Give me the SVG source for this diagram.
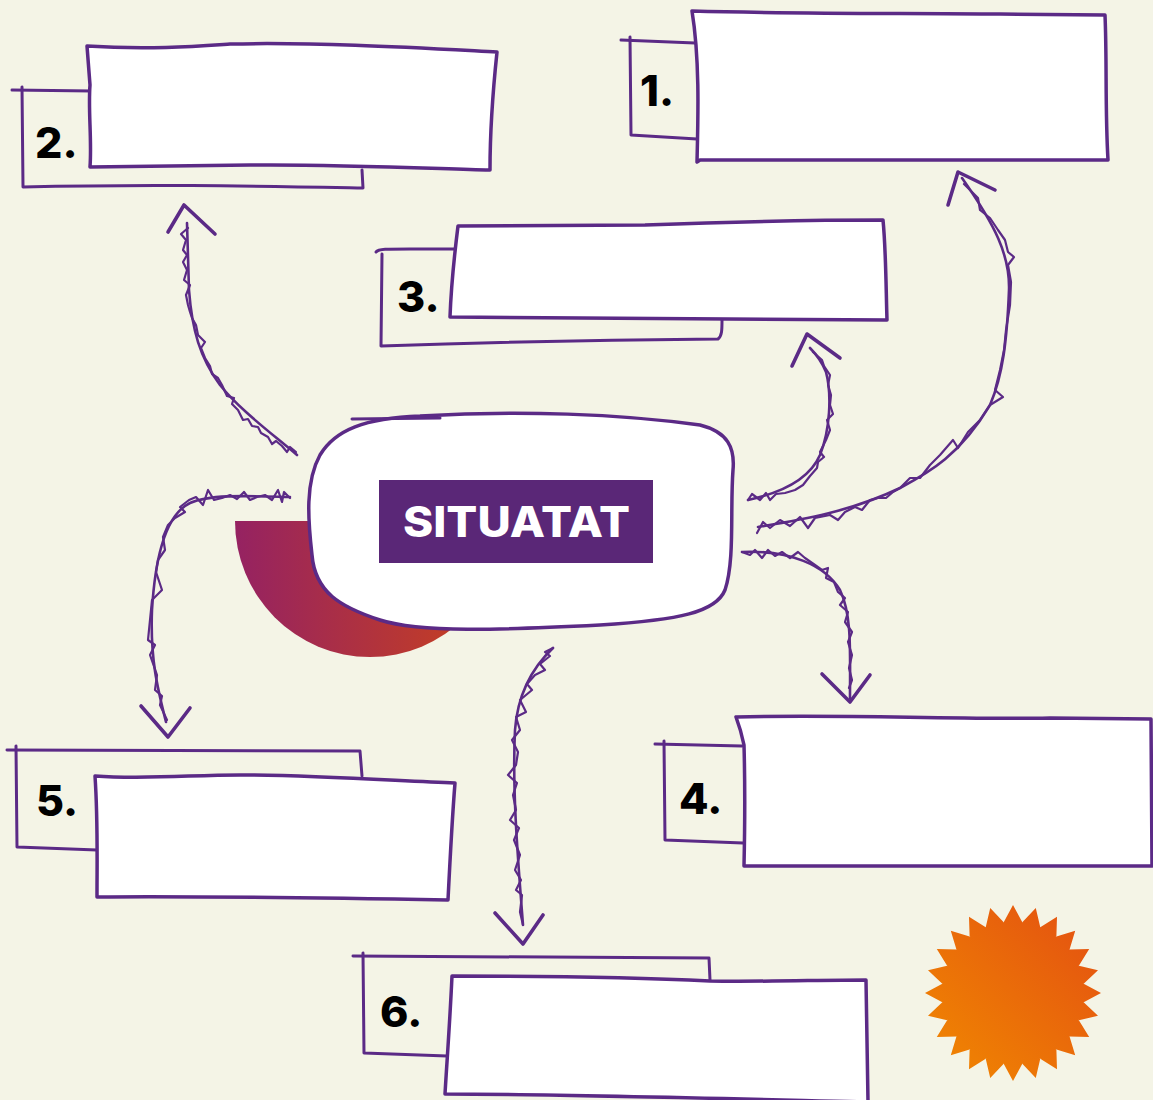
<svg xmlns="http://www.w3.org/2000/svg" xmlns:xlink="http://www.w3.org/1999/xlink" width="1153" height="1100" viewBox="0 0 1153 1100">
<style>
.ln{fill:none;stroke:#5b2a86;stroke-width:3;stroke-linecap:round;stroke-linejoin:round}
.box{fill:#ffffff;stroke:#5b2a86;stroke-width:3.5;stroke-linejoin:round}
.con{fill:none;stroke:#5b2a86;stroke-width:2.6;stroke-linecap:round;stroke-linejoin:round}
.zig{fill:none;stroke:#5b2a86;stroke-width:2.2;stroke-linecap:round;stroke-linejoin:round}
.head{fill:none;stroke:#5b2a86;stroke-width:3.6;stroke-linecap:round;stroke-linejoin:round}
.num{font-family:Inter,"Open Sans","Liberation Sans",sans-serif;font-weight:800;font-size:43px;fill:#000}
.title{font-family:Inter,"Open Sans","Liberation Sans",sans-serif;font-weight:800;font-size:42px;fill:#ffffff}
</style>
<defs>
<linearGradient id="semi" x1="0" y1="0" x2="1" y2="0">
<stop offset="0" stop-color="#952262"/>
<stop offset="1" stop-color="#cc4319"/>
</linearGradient>
<linearGradient id="sun" x1="0" y1="1" x2="1" y2="0">
<stop offset="0" stop-color="#f18a00"/>
<stop offset="1" stop-color="#e34e12"/>
</linearGradient>
<clipPath id="burst">
<circle cx="0" cy="0" r="71"/>
<polygon id="spk" points="-9.4,-70.5 0,-88 9.4,-70.5"/>
<use xlink:href="#spk" transform="rotate(15)"/><use xlink:href="#spk" transform="rotate(30)"/><use xlink:href="#spk" transform="rotate(45)"/>
<use xlink:href="#spk" transform="rotate(60)"/><use xlink:href="#spk" transform="rotate(75)"/><use xlink:href="#spk" transform="rotate(90)"/>
<use xlink:href="#spk" transform="rotate(105)"/><use xlink:href="#spk" transform="rotate(120)"/><use xlink:href="#spk" transform="rotate(135)"/>
<use xlink:href="#spk" transform="rotate(150)"/><use xlink:href="#spk" transform="rotate(165)"/><use xlink:href="#spk" transform="rotate(180)"/>
<use xlink:href="#spk" transform="rotate(195)"/><use xlink:href="#spk" transform="rotate(210)"/><use xlink:href="#spk" transform="rotate(225)"/>
<use xlink:href="#spk" transform="rotate(240)"/><use xlink:href="#spk" transform="rotate(255)"/><use xlink:href="#spk" transform="rotate(270)"/>
<use xlink:href="#spk" transform="rotate(285)"/><use xlink:href="#spk" transform="rotate(300)"/><use xlink:href="#spk" transform="rotate(315)"/>
<use xlink:href="#spk" transform="rotate(330)"/><use xlink:href="#spk" transform="rotate(345)"/>
</clipPath>
</defs>

<rect x="0" y="0" width="1153" height="1100" fill="#f4f4e6"/>

<!-- decorations -->
<path d="M235,521 L505,521 A135,136 0 0 1 235,521 Z" fill="url(#semi)"/>
<g transform="translate(1013,993)">
<rect x="-90" y="-90" width="180" height="180" fill="url(#sun)" clip-path="url(#burst)"/>
</g>

<!-- connectors -->
<g id="connectors">
<!-- to 2 -->
<path class="con" d="M297,455 C270,432 240,410 220,385 C200,358 192,330 189,290 L187,223"/>
<path class="zig" d="M296,452 L290,447 L287,452 L282,446 L276,441 L272,444 L268,437 L261,433 L258,427 L252,426 L248,419 L243,420 L238,410 L232,404 L234,398 L227,396 L222,385 L218,378 L212,374 L210,366 L205,358 L201,348 L205,342 L198,335 L196,325 L192,318 L190,312 L188,305 L186,295 L190,285 L184,280 L187,270 L183,262 L187,255 L183,250 L186,240 L181,234 L188,228"/>
<path class="head" d="M168,232 L184,205 L215,234"/>
<!-- to 1 -->
<path class="con" d="M758,527 C800,520 850,512 900,488 C930,472 960,455 990,405 C1003,375 1007,340 1009,290 C1010,255 995,225 962,178"/>
<path class="zig" d="M757,533 L763,522 L770,528 L780,520 L790,526 L800,517 L808,528 L815,518 L830,515 L838,520 L845,512 L855,507 L862,510 L870,500 L878,498 L886,498 L893,492 L900,488 L910,478 L920,478 L930,465 L940,455 L953,440 L958,448 L968,432 L980,420 L990,405 L1003,397 L995,390 L1000,370 L1004,350 L1006,330 L1010,305 L1011,282 L1008,265 L1014,257 L1008,252 L1005,240 L998,230 L990,218 L980,210 L978,198 L970,190 L964,184"/>
<path class="head" d="M948,205 L958,172 L995,190"/>
<!-- to 3 -->
<path class="con" d="M748,500 C785,492 810,478 820,455 C830,430 832,395 826,372 C822,362 816,354 810,348"/>
<path class="zig" d="M748,500 L752,494 L760,500 L766,493 L770,500 L776,494 L785,493 L795,490 L803,485 L810,476 L817,468 L818,462 L824,457 L820,452 L826,440 L830,430 L827,420 L833,414 L830,405 L831,395 L828,385 L830,375 L824,366 L822,360 L813,352"/>
<path class="head" d="M792,366 L807,334 L840,358"/>
<!-- to 4 -->
<path class="con" d="M742,552 C790,550 825,565 840,590 C852,615 850,650 850,698"/>
<path class="zig" d="M742,552 L750,555 L755,550 L762,558 L768,550 L775,556 L782,552 L790,558 L798,552 L805,558 L815,565 L822,570 L828,568 L826,578 L834,582 L838,592 L845,598 L840,605 L848,612 L845,622 L852,632 L848,642 L852,655 L849,668 L852,680 L849,688"/>
<path class="head" d="M822,674 L850,702 L870,675"/>
<!-- to 5 -->
<path class="con" d="M290,497 C250,496 210,494 190,503 C165,515 155,560 152,610 C150,660 158,690 166,722"/>
<path class="zig" d="M290,498 L284,492 L282,502 L278,490 L272,500 L265,495 L257,497 L250,500 L244,492 L237,499 L230,495 L222,498 L214,500 L208,490 L203,505 L196,497 L189,500 L180,507 L185,512 L175,518 L168,525 L163,537 L165,550 L158,560 L156,572 L162,590 L152,600 L148,640 L155,645 L150,655 L157,675 L155,690 L162,696 L160,705 L167,720"/>
<path class="head" d="M141,706 L168,737 L190,708"/>
<!-- to 6 -->
<path class="con" d="M553,648 C535,665 518,690 515,730 C512,790 518,860 523,925"/>
<path class="zig" d="M553,648 L545,652 L550,656 L540,664 L545,670 L535,675 L527,684 L532,690 L520,700 L526,712 L516,717 L520,730 L512,740 L518,752 L516,765 L508,775 L517,783 L513,795 L516,810 L510,820 L519,828 L514,840 L520,855 L515,870 L521,880 L516,890 L522,895 L520,912 L523,925"/>
<path class="head" d="M495,913 L523,944 L543,915"/>
</g>

<!-- central node -->
<g id="node-situatat">
<path class="box" d="M320,455 C335,430 365,418 420,416 C520,410 620,414 700,425 C728,432 735,448 733,470 C730,510 735,560 725,590 C716,612 680,620 600,625 C500,630 420,633 380,620 C340,607 315,592 312,555 C308,520 305,482 320,455 Z"/>
<path class="ln" d="M352,419 L440,418"/>
<rect x="379" y="480" width="274" height="83" fill="#5a2777"/>
<text class="title" x="403" y="537" textLength="227" lengthAdjust="spacingAndGlyphs">SITUATAT</text>
</g>

<!-- box 1 -->
<g id="node-1">
<path class="ln" d="M621,40 L695,43"/>
<path class="ln" d="M630,37 L631,135 L697,139"/>
<path class="box" d="M692,11 C800,14 900,13 1000,14 L1105,15 C1107,60 1105,110 1108,160 C1000,160 850,161 700,160 L697,162 C698,120 700,60 692,11 Z"/>
<text class="num" x="640" y="106">1.</text>
</g>

<!-- box 2 -->
<g id="node-2">
<path class="ln" d="M12,90 L92,91"/>
<path class="ln" d="M22,87 L23,187 C150,184 250,186 363,188 L362,170"/>
<path class="box" d="M87,46 C150,50 200,46 230,44 C320,42 420,48 497,52 C493,90 490,130 490,170 C420,168 330,164 250,165 C180,166 130,166 90,167 C92,140 88,110 90,85 Z"/>
<text class="num" x="35" y="158">2.</text>
</g>

<!-- box 3 -->
<g id="node-3">
<path class="ln" d="M376,252 C379,248 385,249 457,249"/>
<path class="ln" d="M382,254 L381,346 C500,342 600,340 718,339 C722,336 722,330 722,320"/>
<path class="box" d="M458,226 L645,225 C700,223 800,220 883,220 C886,250 886,290 887,320 C750,318 600,318 450,317 C451,290 455,250 458,226 Z"/>
<text class="num" x="397" y="312">3.</text>
</g>

<!-- box 4 -->
<g id="node-4">
<path class="ln" d="M655,744 L742,746"/>
<path class="ln" d="M664,741 L665,840 L743,843"/>
<path class="box" d="M736,717 C850,714 950,720 1050,718 L1151,719 L1152,866 C1000,865 850,866 744,866 C745,820 745,780 744,745 C742,735 739,725 736,717 Z"/>
<text class="num" x="679" y="814">4.</text>
</g>

<!-- box 5 -->
<g id="node-5">
<path class="ln" d="M7,750 L360,751 L362,776"/>
<path class="ln" d="M16,746 L17,847 L97,850"/>
<path class="box" d="M95,776 C150,780 200,774 250,775 C330,776 400,781 455,783 C452,820 450,860 448,900 C330,898 200,896 97,897 C97,860 98,820 95,776 Z"/>
<text class="num" x="36" y="816">5.</text>
</g>

<!-- box 6 -->
<g id="node-6">
<path class="ln" d="M353,956 L709,958 L710,980"/>
<path class="ln" d="M363,953 L364,1053 L447,1056"/>
<path class="box" d="M452,976 C560,976 650,978 710,981 C760,982 820,980 866,980 L868,1102 C700,1098 550,1094 445,1094 C447,1060 450,1020 452,976 Z"/>
<text class="num" x="380" y="1027">6.</text>
</g>
</svg>
